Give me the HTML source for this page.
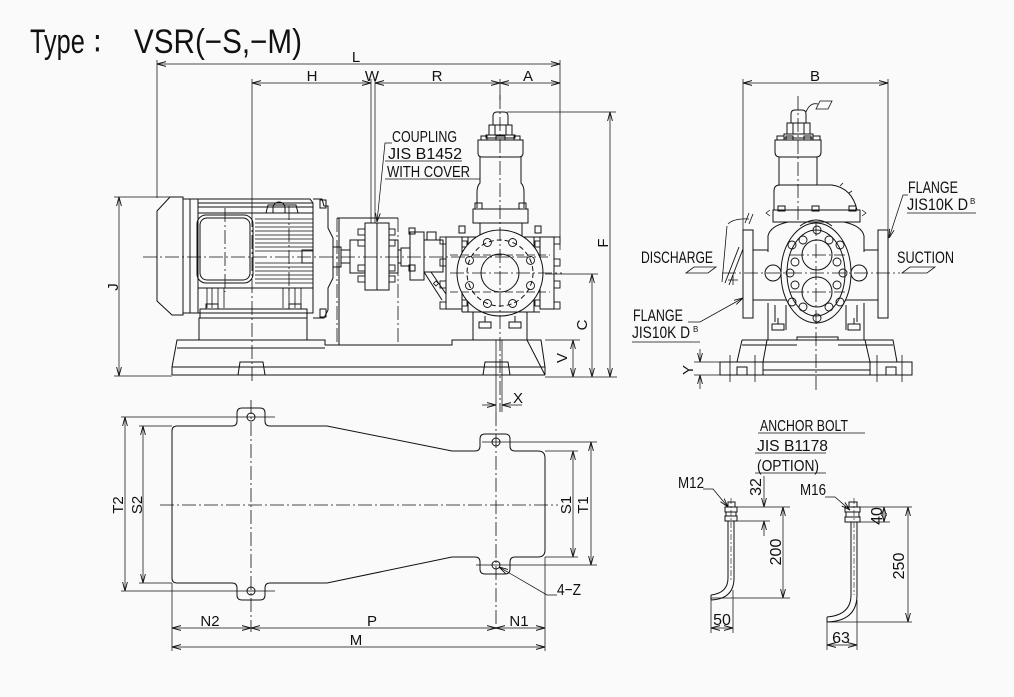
<!DOCTYPE html>
<html><head><meta charset="utf-8"><style>
html,body{margin:0;padding:0;background:#fafafa;}
svg{display:block}
text{font-family:"Liberation Sans","IPAGothic",sans-serif;fill:#111;stroke:none}
</style></head><body>
<svg width="1014" height="697" viewBox="0 0 1014 697" xmlns="http://www.w3.org/2000/svg">
<defs>
<marker id="ar" markerUnits="userSpaceOnUse" markerWidth="9" markerHeight="6" refX="9" refY="3" orient="auto-start-reverse" viewBox="0 0 9 6"><path d="M0,0.6 L9,3 L0,5.4" fill="none" stroke="#111" stroke-width="0.9"/></marker>
</defs>
<rect width="1014" height="697" fill="#fafafa"/>

<!-- TITLE -->
<text x="30" y="53" font-size="34" textLength="80" lengthAdjust="spacingAndGlyphs">Type：</text>
<text x="134" y="53" font-size="34" textLength="168" lengthAdjust="spacingAndGlyphs">VSR(−S,−M)</text>

<!-- ================= ELEVATION VIEW ================= -->
<g fill="none" stroke="#111" stroke-width="1">
<path d="M170,197 L183,197 L183,315 L172,315 L157,301 L157,211 Z"/>
<line x1="183" y1="199" x2="198" y2="199"/>
<line x1="183" y1="313" x2="198" y2="313"/>
<line x1="190" y1="199" x2="190" y2="313"/>
<line x1="198" y1="199" x2="198" y2="313"/>
<path d="M198,199 L310,199 L313,203 L313,313 L198,313"/>
<line x1="198" y1="203" x2="313" y2="203"/>
<line x1="198" y1="207" x2="313" y2="207"/>
<path d="M266,213 L268,205 L296,205 L298,213"/>
<path d="M273,213 L273,208 A6,6 0 0 1 285,208 L285,213"/>
<line x1="198" y1="213" x2="313" y2="213"/>
<rect x="197" y="215" width="56" height="68" rx="9"/>
<rect x="200" y="218" width="50" height="62" rx="7"/>
<path stroke-width="0.8" d="M255,219H313M255,223H313M255,227H313M255,231H313M255,235H313M255,239H313M255,243H313M255,247H313M255,251H313M255,263H313M255,267H313M255,271H313M255,275H313M255,279H313M255,283H313"/>
<line x1="198" y1="288" x2="313" y2="288"/>
<path stroke-width="0.8" d="M207,288V308M212,288V308M218,288V308M224,288V308M283,288V308M289,288V308M295,288V308M301,288V308"/>
<rect x="206" y="304" width="12" height="5"/>
<rect x="289" y="304" width="12" height="5"/>
<rect x="200" y="309" width="107" height="9"/>
<rect x="199" y="318" width="108" height="22"/>
<path d="M313,199 L322,199 L324,206 L328,206 L328,228 L333,238 L333,278 L328,288 L328,310 L324,318 L313,318"/>
<rect x="320" y="200" width="6" height="8"/>
<rect x="320" y="309" width="6" height="8"/>
<rect x="302" y="250" width="11" height="13"/>
<rect x="333" y="247" width="8" height="20"/>
<rect x="341" y="250" width="9" height="13"/>
<rect x="350" y="240" width="15" height="33"/>
<rect x="365" y="223" width="24" height="67"/>
<line x1="377" y1="223" x2="377" y2="290"/>
<rect x="389" y="240" width="9" height="33"/>
<g stroke-width="0.9">
<rect x="358" y="229" width="7" height="6"/><rect x="358" y="240" width="7" height="6"/><rect x="358" y="265" width="7" height="6"/><rect x="358" y="276" width="7" height="6"/>
<rect x="389" y="229" width="6" height="6"/><rect x="389" y="240" width="6" height="6"/><rect x="389" y="265" width="6" height="6"/><rect x="389" y="276" width="6" height="6"/>
</g>
<rect x="398" y="250" width="3" height="13"/>
<rect x="401" y="248" width="9" height="18"/>
<rect x="410" y="232" width="14" height="48"/>
<rect x="409" y="228" width="6" height="6"/><rect x="409" y="265" width="6" height="6"/>
<rect x="424" y="240" width="19" height="32"/>
<rect x="427" y="232" width="9" height="8"/>
<path d="M424,272 L442,300 M431,272 L446,294"/>
<path d="M436,281 l2.5,2.5 l-2.5,2.5 l-2.5,-2.5 Z" stroke-width="0.8"/>
<line x1="337" y1="218" x2="398" y2="218"/>
<line x1="339" y1="218" x2="339" y2="345"/>
<path d="M493,125 L493,116 Q493,112 497,112 L504,112 Q508,112 508,116 L508,125 Z"/>
<rect x="489" y="125" width="23" height="10"/>
<line x1="495" y1="125" x2="495" y2="135"/><line x1="506" y1="125" x2="506" y2="135"/>
<rect x="486" y="135" width="29" height="3"/>
<path d="M478,140 L523,140 L523,153 Q523,157 519,157 L482,157 Q478,157 478,153 Z"/>
<rect x="481" y="136" width="6" height="4"/><rect x="514" y="136" width="6" height="4"/><rect x="496" y="136" width="9" height="4"/>
<path d="M480,157 L480,183 Q477,186 477,192 L477,208 M521,157 L521,183 Q524,186 524,192 L524,208"/>
<rect x="475" y="203" width="7" height="6"/><rect x="519" y="203" width="7" height="6"/>
<rect x="473" y="209" width="55" height="14"/>
<path d="M480,223 L480,237 M522,223 L522,237"/>
<rect x="459" y="226" width="6" height="7"/><rect x="535" y="226" width="6" height="7"/>
<line x1="446" y1="237" x2="556" y2="237"/>
<rect x="446" y="237" width="16" height="72"/>
<rect x="540" y="237" width="14" height="72"/>
<line x1="462" y1="237" x2="462" y2="312"/>
<line x1="468" y1="237" x2="468" y2="312"/>
<line x1="534" y1="237" x2="534" y2="312"/>
<line x1="462" y1="312" x2="540" y2="312"/>
<g stroke-width="0.9">
<rect x="440" y="237" width="6" height="7"/><rect x="440" y="259" width="6" height="7"/><rect x="440" y="281" width="6" height="7"/><rect x="440" y="302" width="6" height="7"/>
<rect x="554" y="237" width="6" height="7"/><rect x="554" y="259" width="6" height="7"/><rect x="554" y="281" width="6" height="7"/><rect x="554" y="302" width="6" height="7"/>
<rect x="462" y="241" width="5" height="6"/><rect x="462" y="300" width="5" height="6"/>
<rect x="535" y="241" width="5" height="6"/><rect x="535" y="300" width="5" height="6"/>
</g>
<circle cx="500" cy="273" r="43" fill="#fafafa"/>
<circle cx="500" cy="273" r="33" stroke-dasharray="5 3"/>
<circle cx="500" cy="273" r="19"/>
<g stroke-width="0.9">
<circle cx="530.5" cy="260.4" r="4"/><circle cx="512.6" cy="242.5" r="4"/><circle cx="487.4" cy="242.5" r="4"/><circle cx="469.5" cy="260.4" r="4"/>
<circle cx="469.5" cy="285.6" r="4"/><circle cx="487.4" cy="303.5" r="4"/><circle cx="512.6" cy="303.5" r="4"/><circle cx="530.5" cy="285.6" r="4"/>
</g>
<path stroke-dasharray="8 3" stroke-width="0.8" d="M450,255H550M450,292H550"/>
<rect x="473" y="312" width="54" height="28"/>
<rect x="479" y="322" width="12" height="6"/><rect x="509" y="322" width="12" height="6"/>
<line x1="485" y1="316" x2="485" y2="322"/><line x1="515" y1="316" x2="515" y2="322"/>
<path d="M172,375 L172,367 L177,340 L199,340 M307,340 L325,340 L325,345 L452,345 L452,340 L473,340 M527,340 L541,340 L545,367 L545,375 Z"/>
<line x1="172" y1="367" x2="545" y2="367"/>
<line x1="172" y1="375" x2="545" y2="375"/>
<path d="M238,375 L240,362 L263,362 L265,375"/>
<path d="M483,375 L485,362 L508,362 L510,375"/>
<line x1="177" y1="348" x2="325" y2="348"/>
</g>

<g fill="none" stroke="#111" stroke-width="0.8" stroke-dasharray="14 3 2 3">
<line x1="143" y1="257" x2="548" y2="257"/>
<line x1="450" y1="273" x2="562" y2="273"/>
<line x1="500" y1="95" x2="500" y2="412"/>
<line x1="225" y1="208" x2="225" y2="292"/>
<line x1="289" y1="206" x2="289" y2="292"/>
<line x1="252" y1="213" x2="252" y2="382"/>
<line x1="337" y1="218" x2="337" y2="345"/>
<line x1="398" y1="218" x2="398" y2="345"/>
</g>

<g fill="none" stroke="#111" stroke-width="0.75">
<line x1="157" y1="60" x2="157" y2="198"/>
<line x1="560" y1="60" x2="560" y2="250"/>
<line x1="252" y1="79" x2="252" y2="213"/>
<line x1="371" y1="79" x2="371" y2="223"/>
<line x1="375" y1="79" x2="375" y2="223"/>
<line x1="500" y1="79" x2="500" y2="100"/>
<line x1="507" y1="112" x2="616" y2="112"/>
<line x1="545" y1="274" x2="598" y2="274"/>
<line x1="545" y1="340" x2="580" y2="340"/>
<line x1="545" y1="377" x2="617" y2="377"/>
<line x1="114" y1="197" x2="175" y2="197"/>
<line x1="114" y1="376" x2="172" y2="376"/>
<line x1="496" y1="340" x2="496" y2="412"/>
<line x1="502" y1="340" x2="502" y2="412"/>
<g marker-start="url(#ar)" marker-end="url(#ar)">
<line x1="157" y1="64" x2="560" y2="64"/>
<line x1="252" y1="83" x2="371" y2="83"/>
<line x1="375" y1="83" x2="500" y2="83"/>
<line x1="500" y1="83" x2="560" y2="83"/>
<line x1="610" y1="112" x2="610" y2="377"/>
<line x1="592" y1="274" x2="592" y2="377"/>
<line x1="573" y1="340" x2="573" y2="377"/>
<line x1="119" y1="197" x2="119" y2="376"/>
</g>
<line x1="482" y1="405" x2="496" y2="405" marker-end="url(#ar)"/>
<line x1="522" y1="405" x2="502" y2="405" marker-end="url(#ar)"/>
<path d="M392,143 L385,143 L377,222" marker-end="url(#ar)"/>
<line x1="385" y1="161" x2="462" y2="161"/>
<line x1="385" y1="179" x2="480" y2="179"/>
</g>
<g font-size="15" text-anchor="middle">
<text x="356" y="62">L</text>
<text x="312" y="81">H</text>
<text x="372" y="81">W</text>
<text x="437" y="81">R</text>
<text x="528" y="81">A</text>
<text x="518" y="403">X</text>
<text transform="translate(118,287) rotate(-90)">J</text>
<text transform="translate(608,243) rotate(-90)">F</text>
<text transform="translate(587,325) rotate(-90)">C</text>
<text transform="translate(567,358) rotate(-90)">V</text>
</g>
<g font-size="16">
<text x="392" y="142" textLength="65" lengthAdjust="spacingAndGlyphs">COUPLING</text>
<text x="388" y="159" textLength="74" lengthAdjust="spacingAndGlyphs">JIS B1452</text>
<text x="387" y="177" textLength="83" lengthAdjust="spacingAndGlyphs">WITH COVER</text>
</g>

<!-- ================= SIDE VIEW ================= -->
<g fill="none" stroke="#111" stroke-width="1">
<path d="M791,123 L791,114 Q791,110 795,110 L802,110 Q806,110 806,114 L806,123 Z"/>
<rect x="787" y="123" width="23" height="11"/>
<line x1="793" y1="123" x2="793" y2="134"/><line x1="804" y1="123" x2="804" y2="134"/>
<rect x="784" y="134" width="29" height="4"/>
<path d="M775,140 L821,140 L821,152 Q821,157 816,157 L780,157 Q775,157 775,152 Z"/>
<rect x="777" y="136" width="7" height="4"/><rect x="786" y="136" width="7" height="4"/><rect x="804" y="136" width="7" height="4"/><rect x="813" y="136" width="7" height="4"/>
<path d="M779,157 L779,185 M817,157 L817,185"/>
<path d="M774,210 L774,191 Q774,185 780,185 L832,185 Q852,188 857,210"/>
<path d="M840,186 l3,-3 M849,193 l3,-2" stroke-width="0.8"/>
<rect x="773" y="210" width="87" height="12"/>
<rect x="778" y="206" width="7" height="5"/><rect x="812" y="206" width="7" height="5"/><rect x="849" y="206" width="7" height="5"/>
<path d="M818,104 Q810,102 806,112" stroke-width="0.8"/>
<path d="M820,101 L832,101 L828,109 L816,109 Z" stroke-width="0.8"/>
<path d="M768,252 L768,236 Q770,226 788,222"/>
<path d="M864,252 L864,236 Q862,226 844,222"/>
<path d="M800,226 Q816,214 832,226"/>
<rect x="743" y="230" width="10" height="88"/>
<rect x="878" y="230" width="10" height="88"/>
<path d="M753,250 L768,250 M753,300 L788,300 M864,250 L878,250 M845,300 L878,300"/>
<ellipse cx="816" cy="273" rx="35" ry="50" fill="#fafafa"/>
<ellipse cx="816" cy="273" rx="29" ry="43"/>
<circle cx="817" cy="255" r="15"/>
<circle cx="817" cy="292" r="15"/>
<circle cx="773" cy="273" r="8"/>
<circle cx="859" cy="273" r="8"/>
<g stroke-width="0.9">
<circle cx="817" cy="230" r="4"/><circle cx="817" cy="318" r="4"/>
<circle cx="792" cy="245" r="4"/><circle cx="840" cy="245" r="4"/>
<circle cx="803" cy="240" r="4"/><circle cx="829" cy="240" r="4"/>
<circle cx="795" cy="262" r="4"/><circle cx="837" cy="262" r="4"/>
<circle cx="790" cy="273" r="4"/><circle cx="843" cy="273" r="4"/>
<circle cx="795" cy="285" r="4"/><circle cx="837" cy="285" r="4"/>
<circle cx="792" cy="302" r="4"/><circle cx="840" cy="302" r="4"/>
<circle cx="803" cy="307" r="4"/><circle cx="829" cy="307" r="4"/>
</g>
<path d="M768,303 L768,340 M775,305 L775,322 M864,303 L864,340 M857,305 L857,322 M786,305 L786,330 M846,305 L846,330"/>
<rect x="772" y="324" width="12" height="6"/><rect x="848" y="324" width="12" height="6"/>
<line x1="778" y1="318" x2="778" y2="324"/><line x1="854" y1="318" x2="854" y2="324"/>
<path d="M742,340 L893,340 L897,362 M742,340 L737,362"/>
<path d="M742,345 H797 M838,345 H893"/>
<path d="M797,340 L797,337 L838,337 L838,340"/>
<path d="M767,340 L763,362 M865,340 L870,362"/>
<rect x="720" y="362" width="192" height="13"/>
<rect x="763" y="362" width="107" height="13"/>
<line x1="763" y1="370" x2="870" y2="370"/>
<rect x="737" y="367" width="10" height="8"/>
<rect x="886" y="367" width="10" height="8"/>
<path d="M730,355 V382 M755,355 V382 M877,355 V382 M902,355 V382" stroke-width="0.8"/>
<path d="M728,224 Q734,218 749,219" stroke-width="0.8"/>
<path d="M749,213 l-4,10 M753,214 l-4,10" stroke-width="0.8"/>
<path d="M727,226 L722,282" stroke-width="0.8"/>
<path d="M739,247 L725,283 M743,249 L729,285" stroke-width="0.9"/>
<path d="M728,280 h10 M733,275 v10" stroke-width="0.8"/>
<path d="M686,273 L694,267 L716,267 L708,273 Z M694,267 L706,267" stroke-width="0.8"/>
<path d="M902,273 L910,267 L935,267 L927,273 Z" stroke-width="0.8"/>
<path d="M770,210 l-4,3 l4,3 M862,210 l4,3 l-4,3" stroke-width="0.7"/>
</g>
<g fill="none" stroke="#111" stroke-width="0.8" stroke-dasharray="14 3 2 3">
<line x1="798" y1="96" x2="798" y2="222"/>
<line x1="816" y1="222" x2="816" y2="390"/>
<line x1="722" y1="273" x2="900" y2="273"/>
<line x1="790" y1="255" x2="845" y2="255"/>
<line x1="790" y1="292" x2="845" y2="292"/>
</g>
<g fill="none" stroke="#111" stroke-width="0.75">
<line x1="743" y1="79" x2="743" y2="230"/>
<line x1="888" y1="79" x2="888" y2="230"/>
<line x1="743" y1="83" x2="888" y2="83" marker-start="url(#ar)" marker-end="url(#ar)"/>
<line x1="694" y1="362" x2="720" y2="362"/>
<line x1="694" y1="375" x2="720" y2="375"/>
<line x1="700" y1="349" x2="700" y2="362" marker-end="url(#ar)"/>
<line x1="700" y1="389" x2="700" y2="375" marker-end="url(#ar)"/>
<path d="M908,195 L903,195 L889,238" marker-end="url(#ar)"/>
<line x1="907" y1="213" x2="976" y2="213"/>
<path d="M688,322 L700,322 L743,298" marker-end="url(#ar)"/>
<line x1="632" y1="342" x2="700" y2="342"/>
</g>
<text x="815" y="81" font-size="15" text-anchor="middle">B</text>
<text transform="translate(693,370) rotate(-90)" font-size="15" text-anchor="middle">Y</text>
<g font-size="17">
<text x="908" y="193" textLength="50" lengthAdjust="spacingAndGlyphs">FLANGE</text>
<text x="907" y="210" textLength="61" lengthAdjust="spacingAndGlyphs">JIS10K D</text>
<text x="641" y="263" textLength="72" lengthAdjust="spacingAndGlyphs">DISCHARGE</text>
<text x="897" y="263" textLength="57" lengthAdjust="spacingAndGlyphs">SUCTION</text>
<text x="633" y="321" textLength="50" lengthAdjust="spacingAndGlyphs">FLANGE</text>
<text x="632" y="338" textLength="58" lengthAdjust="spacingAndGlyphs">JIS10K D</text>
</g>
<text x="970" y="204" font-size="8">B</text>
<text x="693" y="332" font-size="8">B</text>

<!-- ================= PLAN VIEW ================= -->
<g fill="none" stroke="#111" stroke-width="1">
<path d="M177,426 L232,426 Q237,426 237,421 L237,413 Q237,408 242,408 L260,408 Q265,408 265,413 L265,421 Q265,426 270,426 L327,426 L452,451 L475,451 Q480,451 480,446 L480,439 Q480,434 485,434 L505,434 Q510,434 510,439 L510,446 Q510,451 515,451 L538,451 Q545,451 545,458 L545,550 Q545,557 538,557 L515,557 Q510,557 510,562 L510,569 Q510,574 505,574 L485,574 Q480,574 480,569 L480,562 Q480,557 475,557 L452,557 L327,583 L270,583 Q265,583 265,588 L265,595 Q265,600 260,600 L242,600 Q237,600 237,595 L237,588 Q237,583 232,583 L177,583 Q172,583 172,578 L172,431 Q172,426 177,426 Z"/>
<circle cx="251" cy="417" r="4"/>
<circle cx="251" cy="591" r="4"/>
<circle cx="496" cy="442" r="4"/>
<circle cx="496" cy="565" r="4"/>
</g>
<g fill="none" stroke="#111" stroke-width="0.8" stroke-dasharray="14 3 2 3">
<line x1="160" y1="505" x2="558" y2="505"/>
<line x1="251" y1="400" x2="251" y2="632"/>
<line x1="496" y1="412" x2="496" y2="632"/>
</g>
<g fill="none" stroke="#111" stroke-width="0.75">
<line x1="121" y1="417" x2="275" y2="417"/>
<line x1="121" y1="591" x2="275" y2="591"/>
<line x1="139" y1="426" x2="172" y2="426"/>
<line x1="139" y1="583" x2="172" y2="583"/>
<line x1="482" y1="442" x2="597" y2="442"/>
<line x1="476" y1="565" x2="597" y2="565"/>
<line x1="545" y1="451" x2="578" y2="451"/>
<line x1="545" y1="557" x2="578" y2="557"/>
<line x1="172" y1="583" x2="172" y2="651"/>
<line x1="545" y1="557" x2="545" y2="651"/>
<g marker-start="url(#ar)" marker-end="url(#ar)">
<line x1="125" y1="417" x2="125" y2="591"/>
<line x1="143" y1="426" x2="143" y2="583"/>
<line x1="573" y1="451" x2="573" y2="557"/>
<line x1="591" y1="442" x2="591" y2="565"/>
<line x1="172" y1="628" x2="251" y2="628"/>
<line x1="251" y1="628" x2="496" y2="628"/>
<line x1="496" y1="628" x2="545" y2="628"/>
<line x1="172" y1="647" x2="545" y2="647"/>
</g>
<path d="M557,595 L547,595 L499,567" marker-end="url(#ar)"/>
</g>
<g font-size="15" text-anchor="middle">
<text transform="translate(123,505) rotate(-90)">T2</text>
<text transform="translate(142,505) rotate(-90)">S2</text>
<text transform="translate(571,505) rotate(-90)">S1</text>
<text transform="translate(588,505) rotate(-90)">T1</text>
<text x="210" y="626">N2</text>
<text x="372" y="626">P</text>
<text x="519" y="626">N1</text>
<text x="356" y="645">M</text>
</g>
<text x="557" y="595" font-size="16" textLength="24" lengthAdjust="spacingAndGlyphs">4−Z</text>

<!-- ================= ANCHOR BOLTS ================= -->
<g font-size="16">
<text x="760" y="431" textLength="88" lengthAdjust="spacingAndGlyphs">ANCHOR BOLT</text>
<text x="757" y="451" textLength="71" lengthAdjust="spacingAndGlyphs">JIS B1178</text>
<text x="757" y="471" textLength="62" lengthAdjust="spacingAndGlyphs">(OPTION)</text>
<text x="678" y="488" textLength="26" lengthAdjust="spacingAndGlyphs">M12</text>
<text x="800" y="495" textLength="26" lengthAdjust="spacingAndGlyphs">M16</text>
</g>
<g fill="none" stroke="#111" stroke-width="0.8">
<line x1="758" y1="433" x2="865" y2="433"/>
<line x1="755" y1="453" x2="826" y2="453"/>
<line x1="755" y1="473" x2="826" y2="473"/>
<path d="M703,489 L713,489 L728,507" marker-end="url(#ar)"/>
<path d="M825,497 L835,497 L850,510" marker-end="url(#ar)"/>
</g>
<g fill="none" stroke="#111" stroke-width="1">
<rect x="728" y="502" width="7" height="5"/>
<rect x="725" y="507" width="12" height="5"/>
<rect x="726" y="512" width="10" height="4"/>
<rect x="725" y="516" width="12" height="5"/>
<path d="M728,521 L728,578 Q728,593 711,595 M734,521 L734,578 Q734,599 711,600"/>
<line x1="711" y1="595" x2="711" y2="600"/>
<rect x="849" y="502" width="8" height="5"/>
<rect x="845" y="507" width="15" height="5"/>
<rect x="846" y="512" width="13" height="5"/>
<rect x="845" y="517" width="15" height="5"/>
<path d="M851,522 L851,595 Q851,615 827,617 M857,522 L857,595 Q857,621 827,622"/>
<line x1="827" y1="617" x2="827" y2="622"/>
</g>
<g fill="none" stroke="#111" stroke-width="0.6" stroke-dasharray="6 2 2 2">
<line x1="731" y1="498" x2="731" y2="580"/>
<line x1="854" y1="498" x2="854" y2="595"/>
</g>
<g fill="none" stroke="#111" stroke-width="0.75">
<line x1="737" y1="507" x2="790" y2="507"/>
<line x1="737" y1="521" x2="770" y2="521"/>
<line x1="711" y1="598" x2="790" y2="598"/>
<line x1="764" y1="476" x2="764" y2="507" marker-end="url(#ar)"/>
<line x1="764" y1="536" x2="764" y2="521" marker-end="url(#ar)"/>
<line x1="783" y1="507" x2="783" y2="598" marker-start="url(#ar)" marker-end="url(#ar)"/>
<line x1="711" y1="598" x2="711" y2="633"/>
<line x1="733" y1="590" x2="733" y2="633"/>
<line x1="711" y1="628" x2="733" y2="628" marker-start="url(#ar)" marker-end="url(#ar)"/>
<line x1="860" y1="507" x2="912" y2="507"/>
<line x1="860" y1="522" x2="890" y2="522"/>
<line x1="827" y1="622" x2="912" y2="622"/>
<line x1="884" y1="507" x2="884" y2="522" marker-start="url(#ar)" marker-end="url(#ar)"/>
<line x1="908" y1="507" x2="908" y2="622" marker-start="url(#ar)" marker-end="url(#ar)"/>
<line x1="827" y1="622" x2="827" y2="650"/>
<line x1="857" y1="600" x2="857" y2="650"/>
<line x1="827" y1="645" x2="857" y2="645" marker-start="url(#ar)" marker-end="url(#ar)"/>
</g>
<g font-size="16" text-anchor="middle">
<text transform="translate(761,487) rotate(-90)">32</text>
<text transform="translate(781,552) rotate(-90)">200</text>
<text x="722" y="625">50</text>
<text transform="translate(882,516) rotate(-90)">40</text>
<text transform="translate(904,566) rotate(-90)">250</text>
<text x="841" y="643">63</text>
</g>
</svg>
</body></html>
